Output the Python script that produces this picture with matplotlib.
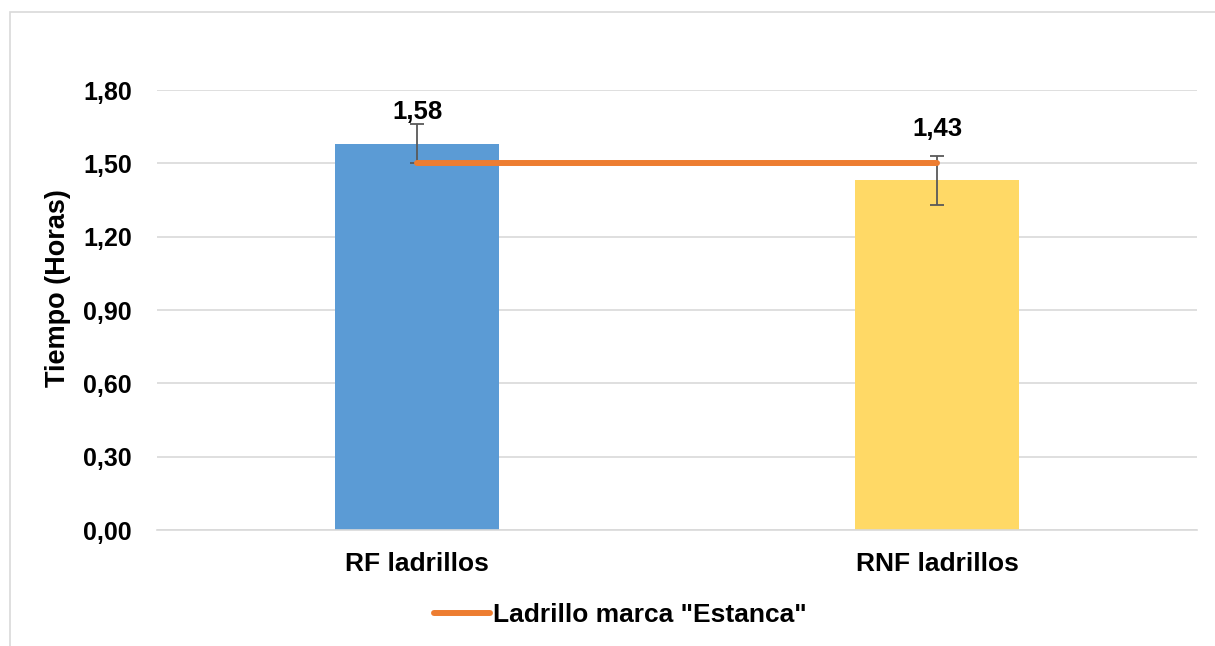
import matplotlib.pyplot as plt
from matplotlib.patches import Rectangle

categories = ['RF ladrillos', 'RNF ladrillos']
tiempos = [1.58, 1.43]
errores = [0.08, 0.10]
estanca = [1.50, 1.50]
etiquetas = ['1,58', '1,43']
yticks = [0.0, 0.3, 0.6, 0.9, 1.2, 1.5, 1.8]

plt.rcParams['font.family'] = ['Liberation Sans', 'DejaVu Sans']
plt.rcParams['font.weight'] = 'bold'

fig = plt.figure(figsize=(12.15, 6.46), dpi=100)
ax = fig.add_axes([157 / 1215, 1 - 530 / 646, 1040 / 1215, 440 / 646])

# borde del grafico (recortado a la derecha y abajo)
fig.patches.append(Rectangle((10 / 1215, -0.1), 1.1, 1 - 12 / 646 + 0.1,
                             transform=fig.transFigure, fill=False,
                             edgecolor='#D9D9D9', linewidth=1.2))

x = range(len(categories))
ax.bar(x, tiempos, width=0.315, color=['#5B9BD5', '#FFD966'], zorder=2)
ax.errorbar(x, tiempos, yerr=errores, fmt='none', ecolor='#595959',
            elinewidth=1.3, capsize=5, capthick=1.3, zorder=3)
ax.plot(x, estanca, color='#ED7D31', linewidth=4.3, solid_capstyle='round',
        zorder=4, label='Ladrillo marca "Estanca"')

offs = [0.13, 0.21]
for i, (v, t) in enumerate(zip(tiempos, etiquetas)):
    ax.text(i, v + offs[i], t, ha='center', va='center', fontsize=18.5,
            fontweight='bold', zorder=5)

ax.set_xlim(-0.5, 1.5)
ax.set_ylim(0, 1.8)
ax.set_yticks(yticks)
ax.set_yticklabels([f'{v:.2f}'.replace('.', ',') for v in yticks],
                   fontsize=18, fontweight='bold')
ax.set_xticks(list(x))
ax.set_xticklabels(categories, fontsize=19, fontweight='bold')
ax.tick_params(axis='y', length=0, pad=18)
ax.tick_params(axis='x', length=0, pad=16)
ax.grid(axis='y', color='#D9D9D9', linewidth=1.2, zorder=0)
for s in ['top', 'right', 'left']:
    ax.spines[s].set_visible(False)
ax.spines['bottom'].set_color('#D9D9D9')
ax.spines['bottom'].set_linewidth(1.2)

ax.set_ylabel('Tiempo (Horas)', fontsize=19.5, fontweight='bold', va='center')
ax.yaxis.set_label_coords((58 - 157) / 1040, (530 - 288) / 440)

leg = fig.legend(loc='center', bbox_to_anchor=(620 / 1215, 1 - 615 / 646),
                 frameon=False, fontsize=19, handlelength=2.15,
                 handletextpad=0.1)
for t in leg.get_texts():
    t.set_fontweight('bold')

fig.savefig('out.png', dpi=100)
